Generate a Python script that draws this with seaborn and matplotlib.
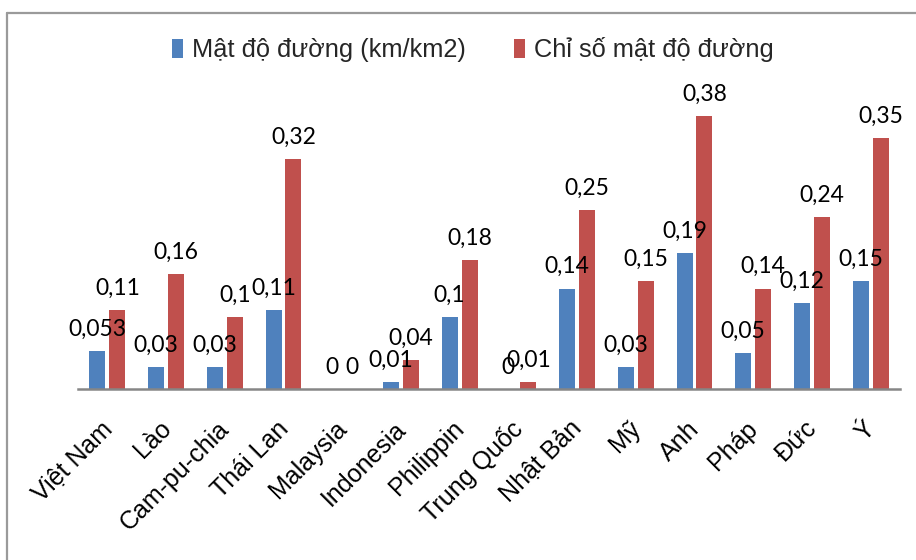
import matplotlib
matplotlib.use("Agg")
import matplotlib.pyplot as plt
from matplotlib.patches import Patch
from matplotlib.lines import Line2D
from matplotlib.transforms import ScaledTranslation
import seaborn as sns
import pandas as pd

# Road density comparison by country
countries = ["Việt Nam", "Lào", "Cam-pu-chia", "Thái Lan", "Malaysia", "Indonesia",
             "Philippin", "Trung Quốc", "Nhật Bản", "Mỹ", "Anh", "Pháp", "Đức", "Ý"]
density = [0.053, 0.03, 0.03, 0.11, 0, 0.01, 0.1, 0, 0.14, 0.03, 0.19, 0.05, 0.12, 0.15]
density_index = [0.11, 0.16, 0.1, 0.32, 0, 0.04, 0.18, 0.01, 0.25, 0.15, 0.38, 0.14, 0.24, 0.35]
series_names = ["Mật độ đường (km/km2)", "Chỉ số mật độ đường"]
series_colors = ["#4F81BD", "#C0504D"]

df = pd.DataFrame({
    "country": countries * 2,
    "value": density + density_index,
    "series": [series_names[0]] * len(countries) + [series_names[1]] * len(countries),
})

sns.set_theme(style="white")
plt.rcParams["font.family"] = ["Liberation Sans", "DejaVu Sans"]

W, H, DPI = 916, 560, 100
fig = plt.figure(figsize=(W / DPI, H / DPI), dpi=DPI)
ax = fig.add_axes([78 / W, 1 - 389 / H, (900 - 78) / W, 287 / H])

sns.barplot(data=df, x="country", y="value", hue="series", order=countries,
            hue_order=series_names, palette=series_colors, width=0.68, gap=0.2,
            saturation=1, legend=False, ax=ax, edgecolor="none")

ax.set_ylim(0, 0.4)
ax.set_xlim(-0.5, len(countries) - 0.5)
ax.set_xlabel("")
ax.set_ylabel("")
ax.set_yticks([])
for s in ["left", "top", "right"]:
    ax.spines[s].set_visible(False)
ax.spines["bottom"].set_color("#868686")
ax.spines["bottom"].set_linewidth(1.8)
ax.tick_params(axis="x", length=0, pad=26)

# Rotated country names
shift = ScaledTranslation(1 / DPI, 0, fig.dpi_scale_trans)
for lbl in ax.get_xticklabels():
    lbl.set_rotation(45)
    lbl.set_rotation_mode("anchor")
    lbl.set_ha("right")
    lbl.set_va("center")
    lbl.set_fontsize(18)
    lbl.set_color("black")
    lbl.set_transform(lbl.get_transform() + shift)

# Value labels above each bar
for container, vals in zip(ax.containers, [density, density_index]):
    for bar, v in zip(container, vals):
        txt = f"{v:g}".replace(".", ",")
        ax.annotate(txt, (bar.get_x() + bar.get_width() / 2, v),
                    xytext=(0, 11), textcoords="offset points",
                    ha="center", va="baseline", fontsize=16.5,
                    family=["Lato", "DejaVu Sans"], color="black")

# Legend across the top
handles = [Patch(facecolor=c, edgecolor="none") for c in series_colors]
fig.legend(handles, series_names, loc="center", ncol=2,
           bbox_to_anchor=(473 / W, 1 - 50 / H), frameon=False,
           fontsize=18.3, handlelength=0.42, handleheight=0.75,
           handletextpad=0.35, columnspacing=1.9)

# Outer chart frame
frame_kw = dict(color="#9A9A9A", linewidth=1.6, transform=fig.transFigure)
fig.add_artist(Line2D([7 / W, 1], [1 - 13 / H, 1 - 13 / H], **frame_kw))
fig.add_artist(Line2D([7 / W, 7 / W], [0, 1 - 13 / H], **frame_kw))

fig.savefig("out.png", dpi=DPI, facecolor="white")
